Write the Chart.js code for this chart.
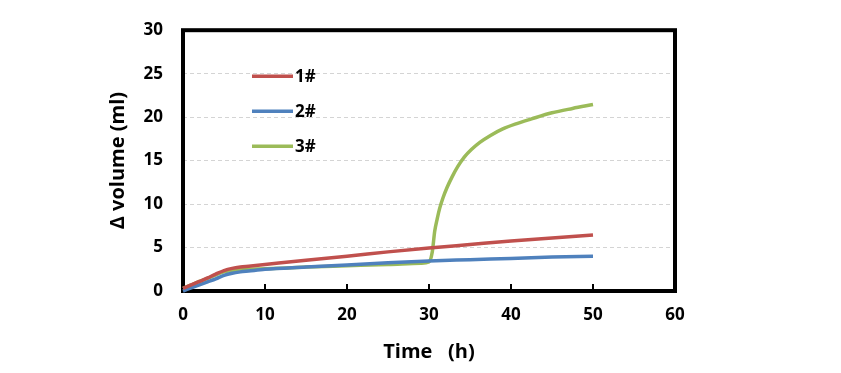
<!DOCTYPE html>
<html>
<head>
<meta charset="utf-8">
<script src="https://cdn.jsdelivr.net/npm/chart.js@4.4.1/dist/chart.umd.min.js"></script>
<style>
html,body{margin:0;padding:0;background:#fff;}
#wrap{width:841px;height:373px;position:relative;}
</style>
</head>
<body>
<div id="wrap"><canvas id="c" width="841" height="373"></canvas></div>
<script>
// ---- data ----
const seriesNames = ['1#', '2#', '3#'];
const time1 = [0, 1, 2, 3, 4, 5, 6, 7, 8, 10, 15, 20, 25, 30, 35, 40, 45, 50];
const vol1  = [0.3, 0.7, 1.1, 1.5, 1.95, 2.35, 2.6, 2.75, 2.85, 3.05, 3.55, 4.0, 4.5, 4.95, 5.35, 5.75, 6.1, 6.45];
const time2 = [0, 1, 2, 3, 4, 5, 6, 7, 8, 10, 15, 20, 25, 30, 35, 40, 45, 50];
const vol2  = [0.0, 0.35, 0.7, 1.05, 1.4, 1.8, 2.05, 2.2, 2.3, 2.5, 2.75, 3.0, 3.25, 3.45, 3.6, 3.75, 3.9, 4.0];
const time3 = [0, 1, 2, 3, 4, 5, 6, 7, 8, 10, 15, 20, 25, 29, 30, 30.4, 30.7, 31.0, 31.3, 31.7, 32.2, 32.8, 33.5, 34.3, 35.2, 36.2, 37.5, 39, 40.5, 42.5, 45, 47.5, 50];
const vol3  = [0.3, 0.7, 1.1, 1.45, 1.85, 2.2, 2.35, 2.45, 2.5, 2.55, 2.75, 2.9, 3.05, 3.2, 3.35, 4.5, 6.9, 8.3, 9.5, 10.7, 11.9, 13.1, 14.3, 15.4, 16.3, 17.1, 17.9, 18.65, 19.2, 19.8, 20.5, 21.0, 21.45];
const xTicks = [0, 10, 20, 30, 40, 50, 60];
const yTicks = [0, 5, 10, 15, 20, 25, 30];
const xTitle = 'Time   (h)';
const yTitle = 'Δ volume (ml)';

const colors = ['#C0504D', '#4F81BD', '#9BBB59'];
const FONT = "'Open Sans', 'Noto Sans', sans-serif";

function pts(t, v) { return t.map((x, i) => ({x: x, y: v[i]})); }

const framePlugin = {
  id: 'frame',
  beforeDatasetsDraw(chart) {
    const {ctx, chartArea: a, scales} = chart;
    ctx.save();
    ctx.strokeStyle = '#000';
    ctx.lineWidth = 4;
    ctx.strokeRect(a.left, a.top, a.right - a.left, a.bottom - a.top);
    // inward x ticks
    ctx.lineWidth = 2;
    xTicks.forEach(v => {
      if (v === xTicks[0] || v === xTicks[xTicks.length - 1]) return;
      const x = scales.x.getPixelForValue(v);
      ctx.beginPath();
      ctx.moveTo(x, a.bottom);
      ctx.lineTo(x, a.bottom - 7);
      ctx.stroke();
    });
    ctx.restore();
  },
  afterDatasetsDraw(chart) {
    const {ctx, chartArea: a} = chart;
    ctx.save();
    chart.data.datasets.forEach((ds, i) => {
      const y = a.top + 46 + i * 35;
      const x0 = a.left + 69;
      ctx.strokeStyle = ds.borderColor;
      ctx.lineWidth = 3.5;
      ctx.beginPath();
      ctx.moveTo(x0, y);
      ctx.lineTo(x0 + 41, y);
      ctx.stroke();
      ctx.fillStyle = '#000';
      ctx.font = 'bold 17px ' + FONT;
      ctx.textBaseline = 'middle';
      ctx.textAlign = 'left';
      ctx.fillText(ds.label, x0 + 43, y + 1);
    });
    ctx.restore();
  }
};

const datasets = [
  {label: seriesNames[0], data: pts(time1, vol1), borderColor: colors[0]},
  {label: seriesNames[1], data: pts(time2, vol2), borderColor: colors[1]},
  {label: seriesNames[2], data: pts(time3, vol3), borderColor: colors[2]}
].map(d => Object.assign(d, {
  borderWidth: 3.5, pointRadius: 0, pointHoverRadius: 0, fill: false,
  cubicInterpolationMode: 'monotone', clip: false
}));

new Chart(document.getElementById('c'), {
  type: 'line',
  data: {datasets},
  plugins: [framePlugin],
  options: {
    responsive: false,
    animation: false,
    events: [],
    layout: {padding: {left: 106, top: 27, right: 166, bottom: 9}},
    plugins: {legend: {display: false}, tooltip: {enabled: false}},
    scales: {
      x: {
        type: 'linear', min: 0, max: 60,
        afterBuildTicks: s => { s.ticks = xTicks.map(v => ({value: v})); },
        afterFit: s => { s.height = 73; },
        grid: {display: false, drawTicks: false},
        border: {display: false},
        ticks: {color: '#000', font: {family: FONT, size: 17, weight: 'bold'}, padding: 14, maxRotation: 0},
        title: {display: true, text: xTitle, color: '#000', padding: 0,
                font: {family: FONT, size: 20, weight: 'bold'}}
      },
      y: {
        type: 'linear', min: 0, max: 30,
        afterBuildTicks: s => { s.ticks = yTicks.map(v => ({value: v})); },
        afterFit: s => { s.width = 77; },
        grid: {drawTicks: false, lineWidth: 1,
               color: c => (c.tick && (c.tick.value === 0 || c.tick.value === 30)) ? 'rgba(0,0,0,0)' : '#D4D4D4'},
        border: {display: false, dash: [4, 3]},
        ticks: {color: '#000', font: {family: FONT, size: 17, weight: 'bold'}, padding: 20},
        title: {display: true, text: yTitle, color: '#000', padding: 0,
                font: {family: FONT, size: 20, weight: 'bold'}}
      }
    }
  }
});
</script>
</body>
</html>
